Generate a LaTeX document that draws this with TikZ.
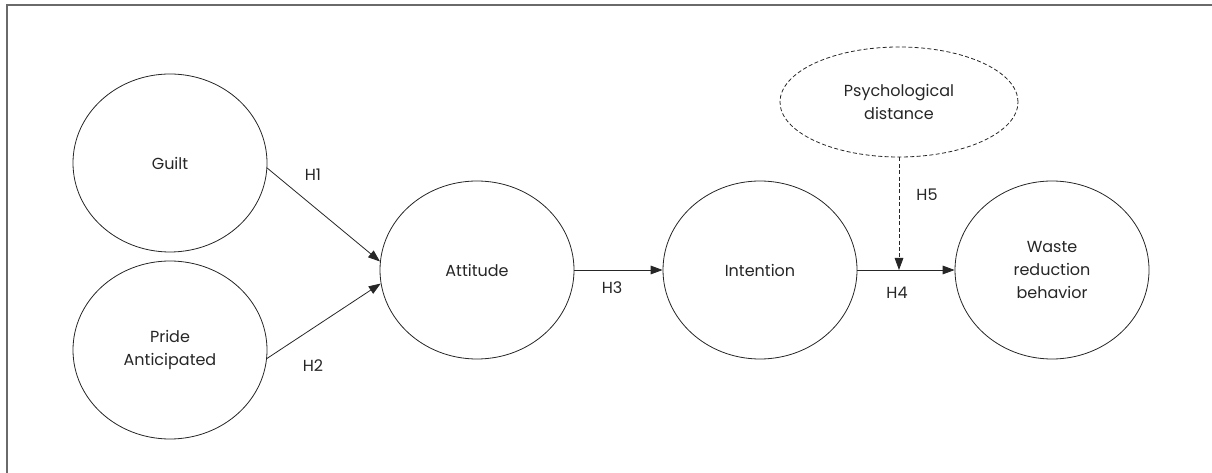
\documentclass[tikz,border=0pt]{standalone}
\usepackage{fontspec}
\setmainfont{Poppins}
\usetikzlibrary{arrows.meta,shapes.geometric}
\definecolor{inkgrey}{HTML}{262626}
\definecolor{framegrey}{HTML}{6A6A6A}
\tikzset{
  construct/.style  = {draw=inkgrey, ellipse, line width=0.6pt, minimum width=145.5pt,
                       minimum height=133.5pt, inner sep=0pt, align=center,
                       font=\fontsize{12}{17.3}\selectfont, text=inkgrey},
  moderator/.style  = {construct, dash pattern=on 3pt off 1.8pt,
                       minimum width=178.5pt, minimum height=82.5pt},
  link/.style       = {-{Triangle[length=9pt,width=6.5pt]}, line width=0.6pt, draw=inkgrey},
  dashlink/.style   = {link, dash pattern=on 3pt off 1.8pt},
  lbl/.style        = {font=\fontsize{12}{14}\selectfont, text=inkgrey, inner sep=0pt},
}

\begin{document}
\begin{tikzpicture}[x=0.75pt,y=-0.75pt]
  \useasboundingbox (0,0) rectangle (1212,473);
  % frame
  \draw[framegrey, line width=1pt] (7,473) -- (7,5) -- (1212,5);
  % constructs
  \node[construct] (guilt)     at (170,163)  {Guilt};
  \node[construct] (pride)     at (170,350)  {Pride\\Anticipated};
  \node[construct] (attitude)  at (477,270)  {Attitude};
  \node[construct] (intention) at (760,270)  {Intention};
  \node[construct] (waste)     at (1052,270) {Waste\\reduction\\behavior};
  \node[moderator] (distance)  at (899,102)  {Psychological\\distance};
  % hypotheses
  \draw[link] (guilt.357) -- (attitude.175);
  \draw[link] (pride.355) -- (attitude.188);
  \draw[link] (attitude.east) -- (intention.west);
  \draw[link] (intention.east) -- (waste.west);
  \draw[dashlink] (distance.south) -- (distance.south |- intention.east);
  % labels
  \node[lbl] (h1) at (313,175) {H1};
  \node[lbl] (h2) at (313,366) {H2};
  \node[lbl] (h3) at (612,288) {H3};
  \node[lbl] (h4) at (897,293) {H4};
  \node[lbl] (h5) at (927,195) {H5};
\end{tikzpicture}
\end{document}
